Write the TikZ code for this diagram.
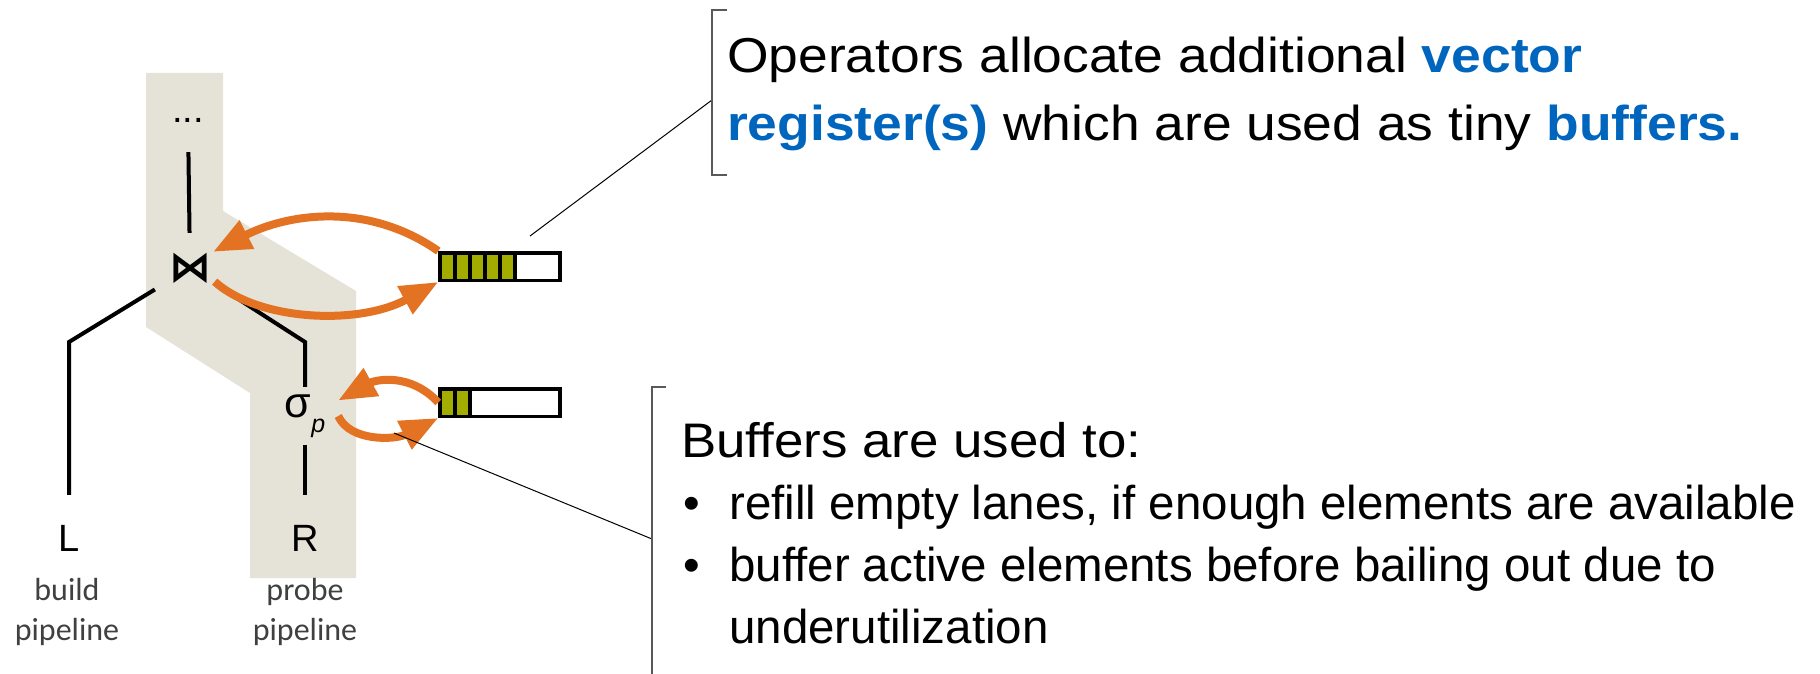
\documentclass[tikz,border=0pt]{standalone}
\usepackage{fontspec}
\setmainfont{Liberation Sans}
\newfontfamily\notefont[FakeStretch=1.09]{Liberation Sans}
\newfontfamily\captionfont{Carlito}
\newfontfamily\opfont{DejaVu Sans}
\usepackage{xcolor}
\usetikzlibrary{arrows.meta,positioning}
\definecolor{tumorange}{HTML}{E37222}
\definecolor{tumblue}{HTML}{0065BD}
\definecolor{lanegreen}{HTML}{A2AD00}
\definecolor{bandgrey}{HTML}{E5E2D7}
\definecolor{captiongrey}{HTML}{404040}
\definecolor{bracketgrey}{HTML}{595959}
\tikzset{
  treeedge/.style = {black, line width=4pt},
  bufarrow/.style = {tumorange, line width=8pt, -{Triangle[length=38pt,width=30pt]}},
  register/.style = {draw, line width=3.5pt, fill=white, minimum width=120pt, minimum height=27.5pt, inner sep=0pt},
  lane/.style = {draw=black, fill=lanegreen, line width=3.5pt},
  callout/.style = {black, line width=1pt},
  bracket/.style = {bracketgrey, line width=1.5pt},
  op/.style = {inner sep=0pt, font=\fontsize{38}{38}\selectfont},
  pipecap/.style = {captiongrey, align=center, inner sep=0pt, font=\captionfont\fontsize{32}{40}\selectfont},
  note/.style = {align=left, inner sep=0pt, font=\notefont\fontsize{49}{67}\selectfont},
}
\newcommand{\regword}[1]{\textbf{\color{tumblue}#1}}

\begin{document}
\begin{tikzpicture}[x=1pt,y=-1pt]
    \useasboundingbox (0,0) rectangle (1820,674);
    % probe pipeline band
    \fill[bandgrey] (146,73) -- (223,73) -- (223,211) -- (356,291) -- (356,578)
        -- (250,578) -- (250,393) -- (146,327) -- cycle;

    \node[op, minimum height=64pt] (dots) at (188,120) {...};
    \node[op, circle, minimum size=56pt, font=\opfont\bfseries\fontsize{42}{42}\selectfont] (join) at (190,268) {⋈};
    \node[op, minimum width=66pt, minimum height=58pt, font=\fontsize{43}{43}\selectfont] (sel) at (305,416)
        {σ\raisebox{-15pt}{\fontsize{25}{25}\selectfont\itshape p}};
    \node[op, minimum height=87pt] (L) at (69,538.5) {L};
    \node[op, minimum height=87pt] (R) at (305,538.5) {R};
    \coordinate (lbend) at (69,342);
    \coordinate (rbend) at (305,342);

    \node[pipecap, anchor=base] (buildcap) at (67,640) {build\\pipeline};
    \node[pipecap, anchor=base] (probecap) at (305,640) {probe\\pipeline};

    \path (dots) edge[treeedge, shorten >=7pt] (join);
    \draw[treeedge, shorten <=13pt] (join) -- (lbend) -- (L);
    \draw[treeedge, shorten <=12pt] (join) -- (rbend) -- (sel);
    \path (sel) edge[treeedge] (R);

    % vector registers
    \node[register] (reg1) at (500,266.5) {};
    \foreach \i in {0,...,4}
        \filldraw[lane] (440+15*\i,252.75) rectangle ++(15,27.5);
    \node[register] (reg2) at (500,402.5) {};
    \foreach \i in {0,1}
        \filldraw[lane] (440+15*\i,388.75) rectangle ++(15,27.5);

    \draw[bufarrow] (reg1.north west) .. controls (365,200) and (285,215) .. (join.35);
    \draw[bufarrow] (join.-29) .. controls (260,322) and (360,325) .. (reg1.south west);
    \draw[bufarrow] (reg2.west) .. controls (410,372) and (375,380) .. (sel.25);
    \draw[bufarrow] (sel.east) .. controls (350,442) and (395,440) .. (reg2.south west);

    % notes
    \coordinate (tip1) at (530,236);
    \coordinate (br1) at (712,100);
    \draw[callout] (tip1) -- (br1);
    \draw[bracket] (727,10) -- (712,10) -- (712,175) -- (727,175);
    \node[note, anchor=base west] (note1) at (727,140)
        {Operators allocate additional \regword{vector}\\\regword{register(s)} which are used as tiny \regword{buffers.}};

    \coordinate (tip2) at (394,433);
    \coordinate (br2) at (652,539);
    \draw[callout] (tip2) -- (br2);
    \draw[bracket] (666,387) -- (652,387) -- (652,680);
    \node[anchor=base west, align=left, inner sep=0pt, font=\fontsize{47.5}{62}\selectfont] (note2) at (681,643)
        {{\notefont\fontsize{48.5}{62}\selectfont Buffers are used to:}\\\makebox[48pt][l]{\hspace{2pt}•}refill empty lanes, if enough elements are available\\\makebox[48pt][l]{\hspace{2pt}•}buffer active elements before bailing out due to\\\hspace*{48pt}underutilization};
\end{tikzpicture}
\end{document}
